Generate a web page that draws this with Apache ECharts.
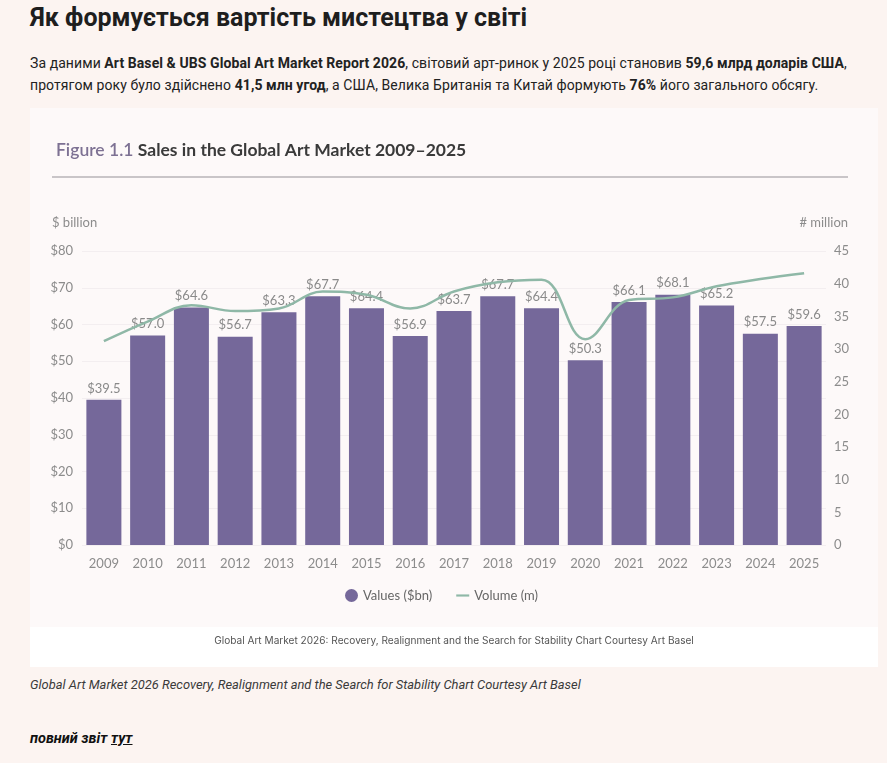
<!DOCTYPE html>
<html>
<head>
    <meta charset="utf-8">
    <title>Як формується вартість мистецтва у світі</title>
    <script src="https://cdn.jsdelivr.net/npm/echarts@6/dist/echarts.min.js"></script>
    <style>
        html, body { margin: 0; padding: 0; }
        body {
            width: 887px; height: 763px; overflow: hidden;
            background: #fcf4f1;
            font-family: Roboto, "Noto Sans", sans-serif;
            color: #1e1e1e;
            position: relative;
        }
        h1 {
            position: absolute; left: 30px; top: 3px; margin: 0;
            font-size: 25px; font-weight: 700;
        }
        .lead {
            position: absolute; left: 30px; top: 52px; width: 850px; margin: 0;
            font-size: 14px; line-height: 22px; color: #222; letter-spacing: 0.08px;
        }
        .card {
            position: absolute; left: 30px; top: 108px; width: 848px; height: 559px;
            background: #fdf9f9;
        }
        .card .band {
            position: absolute; left: 0; right: 0; bottom: 0; height: 40px;
            background: #ffffff;
        }
        #chart { position: absolute; left: 0; top: 0; width: 848px; height: 559px; }
        .caption {
            position: absolute; left: 30px; top: 677px; margin: 0;
            font-size: 12.9px; font-style: italic; color: #3a3a3a;
        }
        .more {
            position: absolute; left: 30px; top: 730px; margin: 0;
            font-size: 14.5px; font-style: italic; font-weight: 700; color: #111;
        }
        .more u { text-decoration: underline; }
    </style>
</head>
<body>
<h1>Як формується вартість мистецтва у світі</h1>
<p class="lead">За даними <b>Art Basel &amp; UBS Global Art Market Report 2026</b>, світовий арт-ринок у 2025 році становив <b>59,6 млрд доларів США</b>, протягом року було здійснено <b>41,5 млн угод</b>, а США, Велика Британія та Китай формують <b>76%</b> його загального обсягу.</p>
<div class="card">
    <div class="band"></div>
    <div id="chart"></div>
</div>
<p class="caption">Global Art Market 2026 Recovery, Realignment and the Search for Stability Chart Courtesy Art Basel</p>
<p class="more">повний звіт <u>тут</u></p>
<script>
    // дані з графіка
    var years = ['2009', '2010', '2011', '2012', '2013', '2014', '2015', '2016', '2017',
        '2018', '2019', '2020', '2021', '2022', '2023', '2024', '2025'];
    var salesValues = [39.5, 57.0, 64.6, 56.7, 63.3, 67.7, 64.4, 56.9, 63.7,
        67.7, 64.4, 50.3, 66.1, 68.1, 65.2, 57.5, 59.6];
    var volumeMillions = [31.2, 34.2, 36.7, 35.8, 36.2, 38.8, 38.3, 36.2, 38.8,
        40.2, 40.6, 31.5, 37.5, 37.9, 39.6, 40.7, 41.6];
    var leftTicks = [0, 80, 10];   // min, max, interval
    var rightTicks = [0, 45, 5];

    var chart = echarts.init(document.getElementById('chart'), null, { renderer: 'canvas' });
    var grey = '#8c8c8c';
    var font = 'Lato, "Noto Sans", sans-serif';

    var option = {
        animation: false,
        textStyle: { fontFamily: font },
        title: {
            left: 21, top: 28,
            text: '{a|Figure 1.1} {b|Sales in the Global Art Market 2009–2025}',
            textStyle: {
                rich: {
                    a: { fontSize: 17.5, fontWeight: 600, color: '#7d7193', fontFamily: font },
                    b: { fontSize: 17.5, fontWeight: 700, color: '#3a3a3a', fontFamily: font }
                }
            }
        },
        graphic: [
            {
                type: 'line', shape: { x1: 22, y1: 69, x2: 818, y2: 69 },
                style: { stroke: '#c9c5c8', lineWidth: 2 }
            },
            {
                type: 'text', left: 22, top: 108,
                style: { text: '$ billion', fill: grey, fontSize: 13, fontFamily: font }
            },
            {
                type: 'text', right: 30, top: 108,
                style: { text: '# million', fill: grey, fontSize: 13, fontFamily: font }
            },
            {
                type: 'text', left: 'center', top: 528,
                style: {
                    text: 'Global Art Market 2026: Recovery, Realignment and the Search for Stability Chart Courtesy Art Basel',
                    fill: '#555555', fontSize: 10.1, fontFamily: 'Inter, sans-serif'
                }
            }
        ],
        legend: {
            top: 476, left: 310,
            itemWidth: 13, itemHeight: 13, itemGap: 24,
            textStyle: { color: '#666666', fontSize: 13 },
            data: [
                { name: 'Values ($bn)', icon: 'circle' },
                { name: 'Volume (m)', icon: 'path://M0,0 L12,0 L12,2 L0,2 Z' }
            ]
        },
        grid: { left: 52, right: 52, top: 143, height: 294 },
        xAxis: {
            type: 'category',
            data: years,
            axisLine: { show: false },
            axisTick: { show: false },
            axisLabel: { color: grey, fontSize: 13, margin: 12 }
        },
        yAxis: [
            {
                type: 'value',
                min: leftTicks[0], max: leftTicks[1], interval: leftTicks[2],
                axisLabel: { color: grey, fontSize: 13, margin: 9, formatter: '${value}' },
                axisLine: { show: false }, axisTick: { show: false },
                splitLine: { lineStyle: { color: '#f3eef0', width: 1 } }
            },
            {
                type: 'value',
                min: rightTicks[0], max: rightTicks[1], interval: rightTicks[2],
                axisLabel: { color: grey, fontSize: 13, margin: 8 },
                axisLine: { show: false }, axisTick: { show: false },
                splitLine: { show: false }
            }
        ],
        series: [
            {
                name: 'Values ($bn)',
                type: 'bar',
                data: salesValues,
                barCategoryGap: '20%',
                itemStyle: { color: '#75689a' },
                label: {
                    show: true, position: 'top', distance: 5,
                    color: '#8a8a8a', fontSize: 13,
                    formatter: function (p) { return '$' + p.value.toFixed(1); }
                }
            },
            {
                name: 'Volume (m)',
                type: 'line',
                yAxisIndex: 1,
                data: volumeMillions,
                smooth: 0.4,
                symbol: 'none',
                z: 5,
                lineStyle: { color: '#8fb8a7', width: 2.5 },
                itemStyle: { color: '#8fb8a7' }
            }
        ]
    };
    chart.setOption(option);
</script>
</body>
</html>
